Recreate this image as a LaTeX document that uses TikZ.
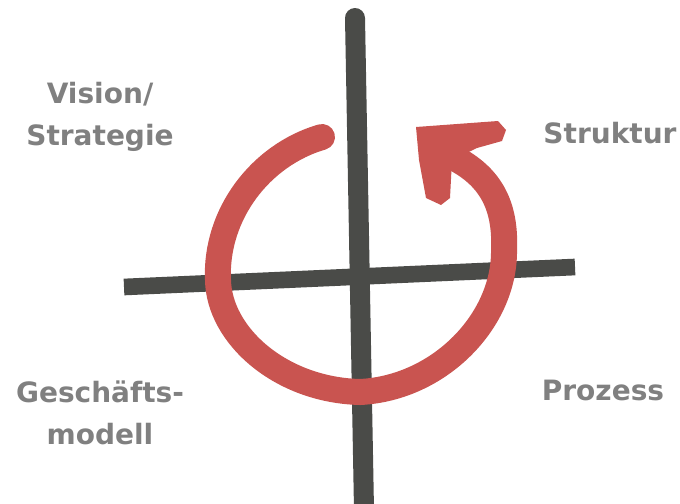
\documentclass[tikz,border=0pt]{standalone}
\usepackage{fontspec}
\setmainfont{DejaVu Sans}
\usepackage{tikz}
\usetikzlibrary{calc}
\usepackage{xcolor}
\definecolor{rosso}{RGB}{201,84,80}
\definecolor{asse}{RGB}{74,75,72}
\definecolor{scritta}{RGB}{128,128,128}
\newcommand{\etichetta}{\fontsize{21pt}{32pt}\selectfont\bfseries}

\begin{document}
\begin{tikzpicture}[x = 0.75pt, y = -0.75pt]
    % Rahmen
    \useasboundingbox (0,0) rectangle (680,503);
    % Achsen
    \coordinate (oben) at (355,18);
    \coordinate (unten) at (364,510);
    \coordinate (links) at (124,287);
    \coordinate (rechts) at (575,267);
    \draw[asse, line width = 15pt, line cap = round] (oben) -- (unten);
    \draw[asse, line width = 12.5pt] (links) -- (rechts);

    % Kreispfeil
    \coordinate (anfang) at (322,137);
    \coordinate (ende) at (458,160);
    \draw[rosso, line width = 19.5pt, line cap = round]
        (anfang) .. controls (260,155) and (215,215) .. (218,280)
        .. controls (219,335) and (280,390) .. (360,392)
        .. controls (440,388) and (505,320) .. (504,250)
        .. controls (506,205) and (490,178) .. (ende);
    \fill[rosso] (416,127) -- (498,121) -- (506,130) -- (502,141) -- (477,148)
        -- (452,160) -- (450,198) -- (441,205) -- (426,198) -- (419,160) -- cycle;

    % Beschriftung
    \node[scritta, align = center, font = \etichetta] (vision) at (100,117) {Vision/\\Strategie};
    \node[scritta, font = \etichetta] (struktur) at (610,133) {Struktur};
    \node[scritta, align = center, font = \etichetta] (geschaeft) at (100,413) {Geschäfts-\\modell};
    \node[scritta, font = \etichetta] (prozess) at (603,390) {Prozess};
\end{tikzpicture}
\end{document}
